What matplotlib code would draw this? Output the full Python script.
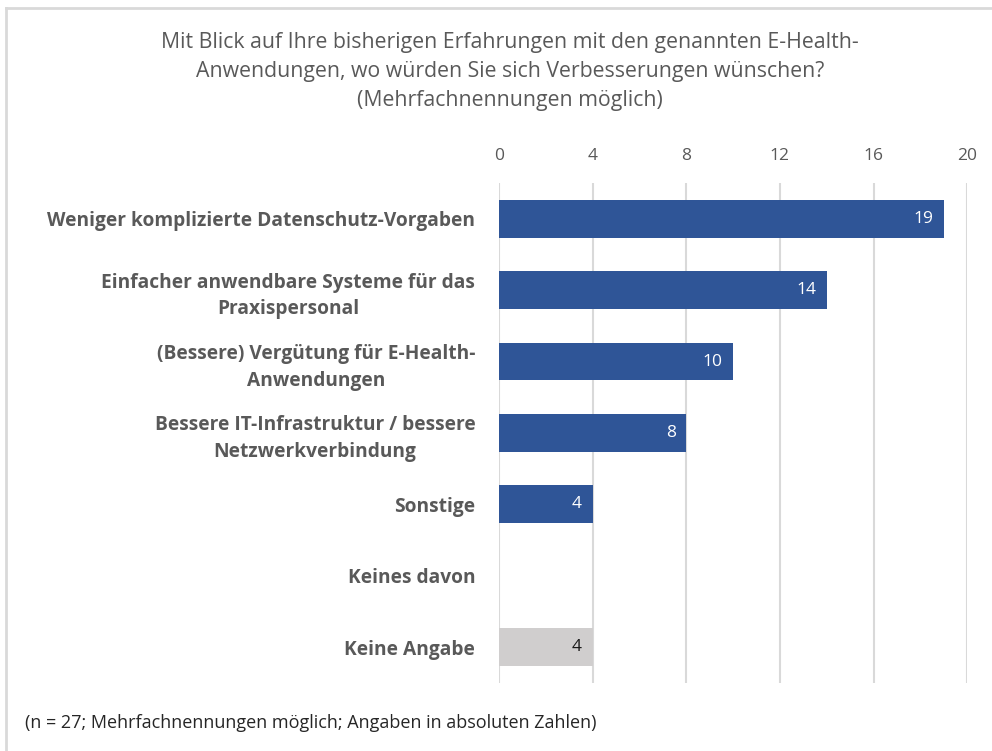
import matplotlib.pyplot as plt
from matplotlib.lines import Line2D

plt.rcParams['font.family'] = ['Open Sans', 'DejaVu Sans']

categories = [
    "Weniger komplizierte Datenschutz-Vorgaben",
    "Einfacher anwendbare Systeme für das\nPraxispersonal",
    "(Bessere) Vergütung für E-Health-\nAnwendungen",
    "Bessere IT-Infrastruktur / bessere\nNetzwerkverbindung",
    "Sonstige",
    "Keines davon",
    "Keine Angabe",
]
values = [19, 14, 10, 8, 4, 0, 4]
bar_colors = ["#2F5597"] * 6 + ["#D0CECE"]
label_colors = ["white"] * 6 + ["#1A1A1A"]
x_ticks = [0, 4, 8, 12, 16, 20]

title = ("Mit Blick auf Ihre bisherigen Erfahrungen mit den genannten E-Health-\n"
         "Anwendungen, wo würden Sie sich Verbesserungen wünschen?\n"
         "(Mehrfachnennungen möglich)")
note = "(n = 27; Mehrfachnennungen möglich; Angaben in absoluten Zahlen)"

fig = plt.figure(figsize=(9.92, 7.51), dpi=100)
ax = fig.add_axes([0.503, 0.0906, 0.472, 0.6657])

pos = list(range(len(categories)))
ax.barh(pos, values, height=0.53, color=bar_colors, zorder=3)
for p, v, c in zip(pos, values, label_colors):
    if v > 0:
        ax.text(v - 0.45, p, str(v), ha='right', va='center', color=c,
                fontsize=12.5, zorder=4)

ax.set_xlim(0, 20)
ax.set_ylim(6.5, -0.5)
ax.set_xticks(x_ticks)
ax.xaxis.tick_top()
ax.tick_params(axis='x', length=0, pad=14, labelsize=12.5, labelcolor='#595959')
ax.set_yticks(pos)
ax.set_yticklabels(categories, fontsize=13.8, fontweight='bold', color='#595959',
                   multialignment='center', linespacing=1.45)
ax.tick_params(axis='y', length=0, pad=17)
ax.grid(axis='x', color='#D9D9D9', linewidth=1.5, zorder=0)
for s in ax.spines.values():
    s.set_visible(False)

fig.text(0.514, 0.958, title, ha='center', va='top', fontsize=15.3,
         color='#595959', linespacing=1.5)
fig.text(0.025, 0.037, note, ha='left', va='center', fontsize=13,
         color='#262626')

# frame lines at top and left edge
fig.add_artist(Line2D([6 / 992, 1], [1 - 7.5 / 751] * 2, color='#D9D9D9', linewidth=2))
fig.add_artist(Line2D([6 / 992] * 2, [0, 1 - 7.5 / 751], color='#D9D9D9', linewidth=2))

fig.savefig("out.png", dpi=100)
